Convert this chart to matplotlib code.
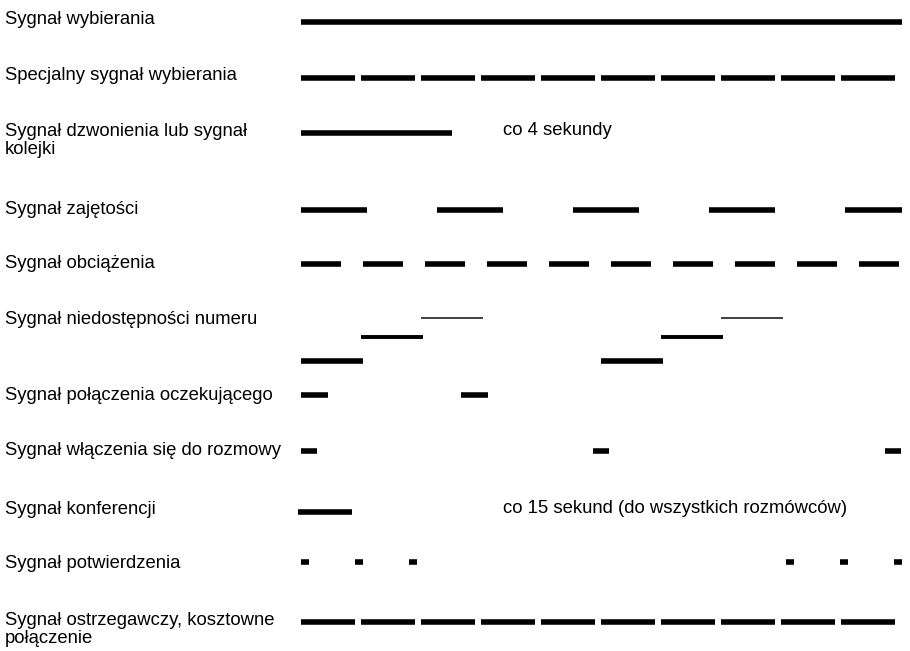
import matplotlib
matplotlib.use("Agg")
import matplotlib.pyplot as plt

plt.rcParams['font.family'] = ['Liberation Sans', 'DejaVu Sans']

# signal names (left column)
labels = [
    "Sygnał wybierania",
    "Specjalny sygnał wybierania",
    "Sygnał dzwonienia lub sygnał\nkolejki",
    "Sygnał zajętości",
    "Sygnał obciążenia",
    "Sygnał niedostępności numeru",
    "Sygnał połączenia oczekującego",
    "Sygnał włączenia się do rozmowy",
    "Sygnał konferencji",
    "Sygnał potwierdzenia",
    "Sygnał ostrzegawczy, kosztowne\npołączenie",
]

# cadences: alternating on / off durations, repeated along the time axis
wybierania = [601]
specjalny = [54, 6]
dzwonienia = [151, 450]
zajetosci = [66, 70]
obciazenia = [40, 22]
oczekujacego = [27, 133]
wlaczenia = [16, 276]
konferencji = [54, 547]
potwierdzenia = [8, 46, 8, 46, 8, 369]
ostrzegawczy = [54, 6]

# how many "on" pulses are shown in each row
pulses = [1, 10, 1, 5, 10, None, 2, 3, 1, 6, 10]

# number unobtainable: three rising tones, repeated
nied_starts = [0, 60, 120, 300, 360, 420]
nied_levels = [0, 1, 2, 0, 1, 2]
nied_len = 62

notes = ["co 4 sekundy", "co 15 sekund (do wszystkich rozmówców)"]

TOTAL = 601


def segments(cadence, count, offset=0):
    out = []
    t = offset
    i = 0
    while len(out) < count and t < TOTAL:
        d = cadence[i % len(cadence)]
        if i % 2 == 0:
            out.append((t, min(t + d, TOTAL)))
        t += d
        i += 1
    return out


fig = plt.figure(figsize=(9.1, 6.51), dpi=100)
ax = fig.add_axes([0, 0, 1, 1])
ax.set_xlim(-301, 609)
ax.set_ylim(651, 0)
ax.axis('off')

line_y = [22, 78, 133, 210, 264, None, 395, 451, 512, 562, 622]
# baseline of the last text line of each label
label_y = [24, 80, 154, 214, 268, 324, 400, 455, 514, 568, 643]
rows = [wybierania, specjalny, dzwonienia, zajetosci, obciazenia, None,
        oczekujacego, wlaczenia, konferencji, potwierdzenia, ostrzegawczy]
offsets = [0, 0, 0, 0, 0, 0, 0, 0, -3, 0, 0]

for lab, ly in zip(labels, label_y):
    ax.text(-296, ly, lab, fontsize=13.3, va='baseline', ha='left',
            linespacing=1.08, color='black')

for cad, n, y, off in zip(rows, pulses, line_y, offsets):
    if cad is None:
        continue
    for a, b in segments(cad, n, off):
        ax.plot([a, b], [y, y], color='black', lw=4.0, solid_capstyle='butt')

# three-level tone
level_y = [361, 337, 318]
level_lw = [4.0, 2.8, 1.3]
level_col = ['black', 'black', '#333333']
for s, lv in zip(nied_starts, nied_levels):
    ax.plot([s, s + nied_len], [level_y[lv], level_y[lv]], color=level_col[lv],
            lw=level_lw[lv], solid_capstyle='butt')

ax.text(202, 135, notes[0], fontsize=13.3, va='baseline', ha='left')
ax.text(202, 513, notes[1], fontsize=13.3, va='baseline', ha='left')

fig.savefig("out.png", dpi=100)
